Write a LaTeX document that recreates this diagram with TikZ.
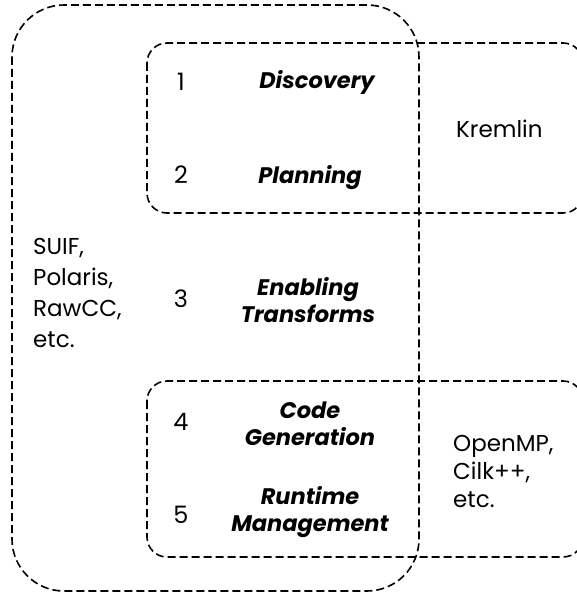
\documentclass[tikz,border=0pt]{standalone}
\usepackage{fontspec}
\setmainfont{Poppins}
\begin{document}
\begin{tikzpicture}[x=1pt,y=-1pt,
  region/.style={draw=black, line width=1.6pt, dash pattern=on 8pt off 4pt},
  sidetext/.style={inner sep=0pt, anchor=base west, align=left},
  stepnum/.style={inner sep=0pt, anchor=base, font=\fontsize{24}{28}\selectfont},
  phase/.style={inner sep=0pt, anchor=base, align=center,
    font=\fontsize{22.5}{27}\selectfont\bfseries\itshape}]
  \clip (0,0) rectangle (577,596);
  % regions
  \draw[region, rounded corners=52pt] (12,5) rectangle (419,591);
  \draw[region, rounded corners=20pt] (147,43) rectangle (583,213);
  \draw[region, rounded corners=20pt] (147,381) rectangle (583,557);
  % compiler phases (multi-line nodes sit on their last baseline)
  \node[stepnum] (n1) at (181,91) {1};
  \node[stepnum] (n2) at (181,183) {2};
  \node[stepnum] (n3) at (181,307) {3};
  \node[stepnum] (n4) at (181,430) {4};
  \node[stepnum] (n5) at (181,523) {5};
  \node[phase] (discovery) at (317,89) {Discovery};
  \node[phase] (planning) at (310,183) {Planning};
  \node[phase] (enabling) at (308,322) {Enabling\\Transforms};
  \node[phase] (codegen) at (310,445) {Code\\Generation};
  \node[phase] (runtime) at (310,531) {Runtime\\Management};
  % tools covering each group of phases
  \node[sidetext, font=\fontsize{23}{30}\selectfont] (kremlin) at (456,138) {Kremlin};
  \node[sidetext, font=\fontsize{23}{31}\selectfont] (suif) at (33,347) {SUIF,\\Polaris,\\RawCC,\\etc.};
  \node[sidetext, font=\fontsize{23}{28}\selectfont] (openmp) at (453,507) {OpenMP,\\Cilk++,\\etc.};
\end{tikzpicture}
\end{document}
